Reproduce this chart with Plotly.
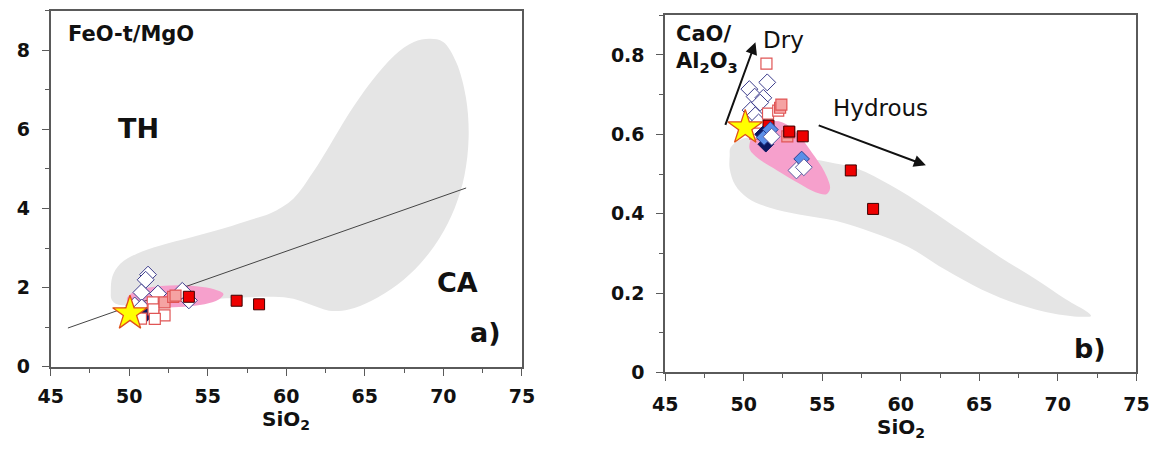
import plotly.graph_objects as go

# ---------------- tick labels ----------------
x_ticks = [45, 50, 55, 60, 65, 70, 75]
a_y_ticks = [0, 2, 4, 6, 8]
b_y_ticks = [0, 0.2, 0.4, 0.6, 0.8]
x_tick_text = ["45", "50", "55", "60", "65", "70", "75"]
a_y_tick_text = ["0", "2", "4", "6", "8"]
b_y_tick_text = ["0", "0.2", "0.4", "0.6", "0.8"]

# ---------------- Panel a: FeO-t/MgO vs SiO2 ----------------
a_field_x = [48.83, 48.93, 49.45, 50.49, 51.94, 54.02, 56.09, 57.75, 59.0, 60.45, 61.69, 62.73,
             63.97, 65.42, 66.88, 68.12, 69.16, 69.99, 70.82, 71.44, 71.61, 71.34, 70.72, 69.78,
             68.54, 67.09, 65.43, 63.98, 62.73, 61.49, 60.45, 59.2, 57.13, 55.47, 50.9, 49.24, 48.87]
a_field_y = [1.87, 2.28, 2.61, 2.86, 3.06, 3.28, 3.51, 3.72, 3.88, 4.25, 4.91, 5.57,
             6.39, 7.21, 7.87, 8.21, 8.29, 8.21, 7.70, 6.80, 5.81, 4.83, 4.01, 3.27,
             2.61, 2.08, 1.67, 1.45, 1.42, 1.58, 1.72, 1.77, 1.75, 1.71, 1.58, 1.58, 1.71]

a_pink_x = [49.85, 50.2, 51.0, 52.0, 53.2, 54.4, 55.4, 56.0, 55.7, 54.8, 53.5, 52.0, 50.8, 50.0]
a_pink_y = [1.72, 1.87, 1.98, 2.04, 2.06, 2.03, 1.96, 1.84, 1.70, 1.58, 1.52, 1.50, 1.53, 1.62]

a_line_x = [46.1, 71.45]
a_line_y = [0.98, 4.52]

a_open_sq_x = [51.5, 51.55, 52.25, 51.63, 50.75]
a_open_sq_y = [1.63, 1.45, 1.30, 1.21, 1.22]
a_salmon_x = [52.25, 52.8, 52.95]
a_salmon_y = [1.63, 1.77, 1.80]
a_red_x = [53.8, 56.84, 58.27]
a_red_y = [1.77, 1.67, 1.58]
a_open_dia_x = [51.2, 51.05, 50.78, 51.83, 53.38, 53.8, 50.35, 50.8]
a_open_dia_y = [2.33, 2.2, 1.88, 1.85, 1.92, 1.68, 1.55, 1.5]
a_navy_dia_x = [51.1]
a_navy_dia_y = [1.32]
a_star_x = [50.05]
a_star_y = [1.35]

# ---------------- Panel b: CaO/Al2O3 vs SiO2 ----------------
b_field_x = [49.16, 49.81, 50.74, 51.9, 53.53, 55.38, 57.24, 59.33, 61.66, 63.98, 66.3, 68.62,
             70.48, 71.88, 72.11, 71.64, 69.79, 67.46, 65.14, 62.82, 60.49, 58.17, 55.85,
             53.53, 51.67, 50.27, 49.46, 49.11, 49.11]
b_field_y = [0.566, 0.587, 0.591, 0.571, 0.546, 0.530, 0.513, 0.472, 0.415, 0.353, 0.291, 0.234,
             0.185, 0.152, 0.142, 0.140, 0.148, 0.172, 0.209, 0.259, 0.316, 0.353, 0.382,
             0.398, 0.415, 0.439, 0.472, 0.513, 0.546]

b_pink_x = [50.39, 50.74, 51.67, 52.48, 53.41, 54.34, 55.15, 55.5, 55.27, 54.57, 53.53, 52.13, 50.97, 50.39]
b_pink_y = [0.579, 0.608, 0.632, 0.630, 0.603, 0.554, 0.505, 0.464, 0.449, 0.454, 0.476, 0.509, 0.538, 0.562]

b_open_sq_x = [51.45, 51.55, 52.2, 50.74]
b_open_sq_y = [0.778, 0.652, 0.66, 0.602]
b_salmon_x = [52.32, 52.4, 52.78, 52.9]
b_salmon_y = [0.667, 0.675, 0.595, 0.605]
b_red_x = [52.9, 51.58, 53.76, 56.82, 58.24]
b_red_y = [0.607, 0.622, 0.595, 0.509, 0.412]
b_open_dia_x = [50.36, 51.5, 50.7, 51.25, 51.05, 50.44, 50.74, 50.95]
b_open_dia_y = [0.714, 0.731, 0.695, 0.692, 0.68, 0.661, 0.648, 0.63]
b_navy_dia_x = [51.41, 51.2]
b_navy_dia_y = [0.575, 0.6]
b_blue_dia_x = [51.3, 53.69, 51.7]
b_blue_dia_y = [0.592, 0.538, 0.612]
b_white_dia_x = [51.78, 53.36, 53.83]
b_white_dia_y = [0.594, 0.509, 0.517]
b_star_x = [50.1]
b_star_y = [0.617]

# arrows: (tail, head)
dry_tail, dry_head = (48.8, 0.62), (50.75, 0.832)
hyd_tail, hyd_head = (54.68, 0.624), (61.6, 0.522)

GRAY = "#e5e5e5"
PINK = "#f6a0cc"
AXIS = "#5a5a5a"
FONT = "DejaVu Sans"
INK = "#111111"

fig = go.Figure()


def field(x, y, color, xa, ya):
    fig.add_trace(go.Scatter(x=x + x[:1], y=y + y[:1], mode="lines", fill="toself",
                             fillcolor=color, line=dict(color=color, width=0, shape="spline", smoothing=1.0),
                             hoverinfo="skip", xaxis=xa, yaxis=ya))


def pts(x, y, symbol, size, fill, edge, width, xa, ya):
    fig.add_trace(go.Scatter(x=x, y=y, mode="markers", xaxis=xa, yaxis=ya,
                             marker=dict(symbol=symbol, size=size, color=fill,
                                         line=dict(color=edge, width=width))))


# panel a
field(a_field_x, a_field_y, GRAY, "x", "y")
field(a_pink_x, a_pink_y, PINK, "x", "y")
fig.add_trace(go.Scatter(x=a_line_x, y=a_line_y, mode="lines", line=dict(color="#444444", width=1),
                         xaxis="x", yaxis="y"))
pts(a_open_dia_x, a_open_dia_y, "diamond", 13, "white", "#3c3c8c", 1, "x", "y")
pts(a_navy_dia_x, a_navy_dia_y, "diamond", 11, "#0b1760", "#0b1760", 1, "x", "y")
pts(a_open_sq_x, a_open_sq_y, "square", 11, "white", "#e05555", 1.2, "x", "y")
pts(a_salmon_x, a_salmon_y, "square", 11, "#f5a3a3", "#e05555", 1.2, "x", "y")
pts(a_red_x, a_red_y, "square", 11, "#ee0000", "#3a0000", 1, "x", "y")
pts(a_star_x, a_star_y, "star", 26, "#ffff00", "#e0501a", 1.3, "x", "y")

# panel b
field(b_field_x, b_field_y, GRAY, "x2", "y2")
field(b_pink_x, b_pink_y, PINK, "x2", "y2")
pts(b_open_dia_x, b_open_dia_y, "diamond", 13, "white", "#3c3c8c", 1, "x2", "y2")
pts(b_open_sq_x, b_open_sq_y, "square", 11, "white", "#e05555", 1.2, "x2", "y2")
pts(b_salmon_x, b_salmon_y, "square", 11, "#f5a3a3", "#e05555", 1.2, "x2", "y2")
pts(b_red_x, b_red_y, "square", 11, "#ee0000", "#3a0000", 1, "x2", "y2")
pts(b_navy_dia_x, b_navy_dia_y, "diamond", 12, "#0b1760", "#0b1760", 1, "x2", "y2")
pts(b_blue_dia_x, b_blue_dia_y, "diamond", 12, "#5b8fe8", "#2a3f90", 1, "x2", "y2")
pts(b_white_dia_x, b_white_dia_y, "diamond", 13, "white", "#5a5aa0", 1, "x2", "y2")
pts(b_star_x, b_star_y, "star", 26, "#ffff00", "#e0501a", 1.3, "x2", "y2")

W, H = 1166, 450
ax_common = dict(showline=True, linecolor=AXIS, linewidth=1.5, mirror=True, showgrid=False,
                 zeroline=False, ticks="outside", tickcolor=AXIS, tickwidth=1.2, ticklen=7,
                 tickmode="array",
                 tickfont=dict(family=FONT, size=19, color=INK, weight="bold"))

fig.update_layout(
    width=W, height=H, margin=dict(l=0, r=0, t=0, b=0),
    paper_bgcolor="white", plot_bgcolor="white", showlegend=False,
    xaxis=dict(domain=[38.5 / W, 520.5 / W], range=[45, 75], anchor="y",
               tickvals=x_ticks, ticktext=x_tick_text, ticklabelstandoff=5,
               minor=dict(dtick=2.5, ticks="outside", ticklen=4, tickcolor=AXIS), **ax_common),
    yaxis=dict(domain=[1 - 376 / H, 1 - 11 / H], range=[0, 9], anchor="x",
               tickvals=a_y_ticks, ticktext=a_y_tick_text, ticklabelstandoff=8,
               minor=dict(dtick=1, ticks="outside", ticklen=4, tickcolor=AXIS), **ax_common),
    xaxis2=dict(domain=[667 / W, 1149 / W], range=[45, 75], anchor="y2",
                tickvals=x_ticks, ticktext=x_tick_text, ticklabelstandoff=7,
                minor=dict(dtick=2.5, ticks="outside", ticklen=4, tickcolor=AXIS), **ax_common),
    yaxis2=dict(domain=[1 - 381.7 / H, 1 - 15.7 / H], range=[0, 0.9], anchor="x2",
                tickvals=b_y_ticks, ticktext=b_y_tick_text, ticklabelstandoff=8,
                minor=dict(dtick=0.1, ticks="outside", ticklen=4, tickcolor=AXIS), **ax_common),
)

bold = dict(family=FONT, color=INK, weight="bold")
plain = dict(family=FONT, color=INK)
ann = [
    dict(x=60, y=1 - 431 / H, xref="x", yref="paper", yanchor="middle", text="SiO<sub>2</sub>",
         font=dict(size=20, **bold)),
    dict(x=60, y=1 - 439 / H, xref="x2", yref="paper", yanchor="middle", text="SiO<sub>2</sub>",
         font=dict(size=20, **bold)),
    dict(x=46.0, y=8.4, xref="x", yref="y", text="FeO-t/MgO", xanchor="left", font=dict(size=21, **bold)),
    dict(x=50.57, y=6.03, xref="x", yref="y", text="TH", font=dict(size=27, **bold)),
    dict(x=70.92, y=2.14, xref="x", yref="y", text="CA", font=dict(size=27, **bold)),
    dict(x=72.66, y=0.86, xref="x", yref="y", text="a)", font=dict(size=27, **bold)),
    dict(x=45.55, y=0.815, xref="x2", yref="y2", text="CaO/<br>Al<sub>2</sub>O<sub>3</sub>", xanchor="left",
         align="left", font=dict(size=21, **bold)),
    dict(x=52.53, y=0.839, xref="x2", yref="y2", text="Dry", font=dict(size=23, **plain)),
    dict(x=58.69, y=0.667, xref="x2", yref="y2", text="Hydrous", font=dict(size=23, **plain)),
    dict(x=72.07, y=0.061, xref="x2", yref="y2", text="b)", font=dict(size=27, **bold)),
]
for a in ann:
    a.setdefault("showarrow", False)
    fig.add_annotation(**a)

for tail, head in [(dry_tail, dry_head), (hyd_tail, hyd_head)]:
    fig.add_annotation(x=head[0], y=head[1], ax=tail[0], ay=tail[1], xref="x2", yref="y2",
                       axref="x2", ayref="y2", text="", showarrow=True, arrowhead=2,
                       arrowsize=1.2, arrowwidth=2, arrowcolor=INK)

fig.write_html("out.html")
